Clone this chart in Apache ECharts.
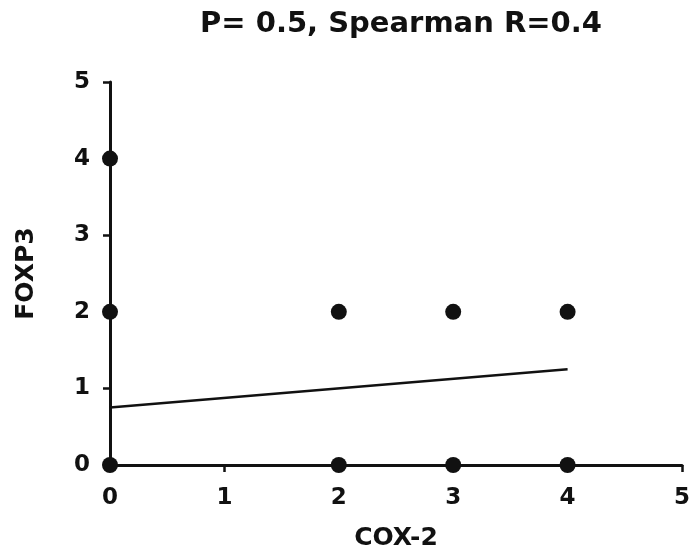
<html style="height: 100%">
<head>
	<meta charset="utf-8">
</head>
<body style="height: 100%; width: 100%; margin: 0; background: #fff">
	<div id="container" style="height: 100%; width: 100%;"></div>
	<script type="text/javascript" src="https://cdn.jsdelivr.net/npm/echarts@6/dist/echarts.min.js"></script>
	<script type="text/javascript">
		var cox2 = [0, 0, 0, 2, 3, 4, 2, 3, 4];
		var foxp3 = [4, 2, 0, 2, 2, 2, 0, 0, 0];
		var fitX = [0, 4];
		var fitY = [0.75, 1.25];
		var axisTicks = [0, 1, 2, 3, 4, 5];

		var points = [];
		for (var i = 0; i < cox2.length; i++) {
			points.push([cox2[i], foxp3[i]]);
		}
		var fitLine = [];
		for (var i = 0; i < fitX.length; i++) {
			fitLine.push([fitX[i], fitY[i]]);
		}

		var myChart = echarts.init(document.getElementById("container"));
		var font = 'DejaVu Sans, sans-serif';
		var axisCommon = {
			type: 'value',
			min: axisTicks[0],
			max: axisTicks[axisTicks.length - 1],
			interval: 1,
			nameLocation: 'middle',
			nameTextStyle: { color: '#111', fontSize: 25, fontWeight: 'bold', fontFamily: font },
			axisLine: { lineStyle: { color: '#111', width: 3 } },
			axisTick: { show: true, length: 7, lineStyle: { color: '#111', width: 2.5 } },
			axisLabel: { color: '#111', fontSize: 23, fontWeight: 'bold', fontFamily: font },
			splitLine: { show: false }
		};

		var option = {
			backgroundColor: '#fff',
			animation: false,
			title: {
				text: 'P= 0.5, Spearman R=0.4',
				left: 396,
				top: 5,
				textAlign: 'center',
				textStyle: { color: '#111', fontSize: 29, fontWeight: 'bold', fontFamily: font }
			},
			grid: { left: 110, right: 7, top: 82, bottom: 86, outerBoundsMode: 'none', containLabel: false },
			xAxis: Object.assign({}, axisCommon, {
				name: 'COX-2',
				nameGap: 61,
				axisLabel: Object.assign({}, axisCommon.axisLabel, { margin: 22 })
			}),
			yAxis: Object.assign({}, axisCommon, {
				name: 'FOXP3',
				nameGap: 71,
				axisLabel: Object.assign({}, axisCommon.axisLabel, { margin: 20 })
			}),
			series: [{
				type: 'line',
				data: fitLine,
				symbol: 'none',
				lineStyle: { color: '#111', width: 2.5 },
				z: 2
			}, {
				type: 'scatter',
				data: points,
				symbolSize: 16,
				itemStyle: { color: '#111', opacity: 1 },
				clip: false,
				z: 10
			}]
		};
		myChart.setOption(option);
	</script>
</body>
</html>
